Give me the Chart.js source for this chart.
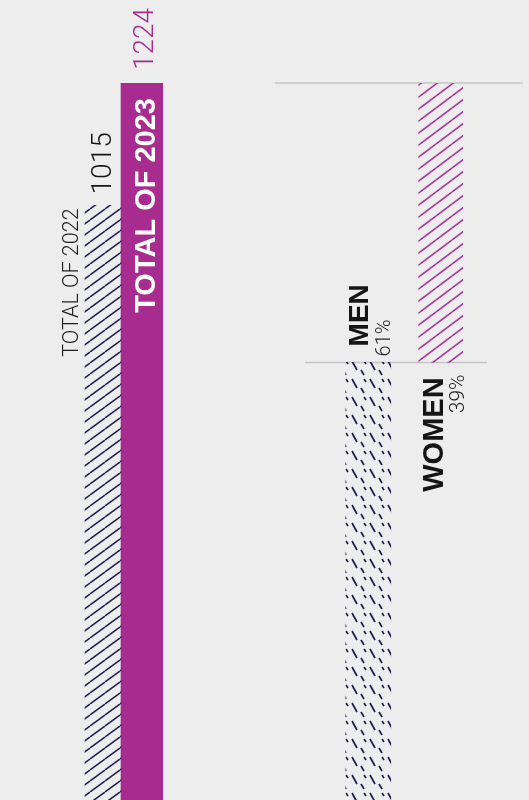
<!DOCTYPE html>
<html>
<head>
<meta charset="utf-8">
<script src="https://cdn.jsdelivr.net/npm/chart.js@4.4.1/dist/chart.umd.min.js"></script>
<style>
  html, body { margin: 0; padding: 0; background: #ededed; }
  #wrap { position: relative; width: 529px; height: 800px; overflow: hidden; }
  canvas { position: absolute; top: 0; }
</style>
</head>
<body>
<div id="wrap">
  <canvas id="totals" width="260" height="800" style="left:0"></canvas>
  <canvas id="gender" width="269" height="800" style="left:260px"></canvas>
</div>
<script>
// data
const totalLabels = ["TOTAL OF 2022", "TOTAL OF 2023"]
const totalValues = [1015, 1224]
const genderLabels = ["MEN", "WOMEN"]
const genderShares = [61, 39] // % of the 2023 total

const purple = "#a82b8f"
const navy = "#1c1f4d"

// split of the 2023 total, stacked as floating bars
const total2023 = totalValues[1]
const menTop = Math.round(total2023 * genderShares[0] / 100)

function hatch(w, h, color, lw, draw) {
  const c = document.createElement("canvas")
  c.width = w
  c.height = h
  const g = c.getContext("2d")
  g.strokeStyle = color
  g.lineWidth = lw
  g.lineCap = "butt"
  draw(g, w, h)
  return g.createPattern(c, "repeat")
}

function diag(g, w, h) {
  for (const off of [-h, 0, h]) {
    g.beginPath()
    g.moveTo(0, h + off)
    g.lineTo(w, off)
    g.stroke()
  }
}

const pat2022 = hatch(15, 11, navy, 1.5, diag)
const patWomen = hatch(16, 12, "#ad3399", 1.6, diag)
const patMen = hatch(18, 18, navy, 1.7, (g) => {
  g.beginPath(); g.moveTo(2, 1); g.lineTo(7, 10); g.stroke()
  g.beginPath(); g.moveTo(11, 10); g.lineTo(14, 15); g.stroke()
  g.beginPath(); g.moveTo(14, 1); g.lineTo(16, 4); g.stroke()
})

function vText(ctx, text, x, y, font, color, align) {
  ctx.save()
  ctx.translate(x, y)
  ctx.rotate(-Math.PI / 2)
  ctx.font = font
  ctx.fillStyle = color
  ctx.textAlign = align || "left"
  ctx.textBaseline = "alphabetic"
  ctx.fillText(text, 0, 0)
  ctx.restore()
}

const light = (s) => "300 " + s + "px Roboto, 'DejaVu Sans', sans-serif"
const bold = (s) => "bold " + s + "px 'Liberation Sans', Arial, sans-serif"

const totalsLabelsPlugin = {
  id: "totalsLabels",
  afterDatasetsDraw(chart) {
    const ctx = chart.ctx
    const b22 = chart.getDatasetMeta(0).data[0]
    const b23 = chart.getDatasetMeta(1).data[1]
    vText(ctx, String(totalValues[0]), b22.x + 8, b22.y - 11, light(28), "#141414")
    vText(ctx, totalLabels[0], b22.x - b22.width / 2 - 7, b22.y + 3, light(21.5), "#1e1e1e", "right")
    vText(ctx, String(totalValues[1]), b23.x + 10, b23.y - 13, light(28), purple)
    vText(ctx, totalLabels[1], b23.x + 12, b23.y + 15, bold(29), "#fff", "right")
  }
}

const genderLabelsPlugin = {
  id: "genderLabels",
  beforeDatasetsDraw(chart) {
    const ctx = chart.ctx
    const y = chart.scales.y
    const area = chart.chartArea
    ctx.save()
    ctx.strokeStyle = "#c6c6c6"
    ctx.lineWidth = 1.5
    ctx.beginPath()
    ctx.moveTo(area.left - 57, y.getPixelForValue(total2023))
    ctx.lineTo(area.right + 46, y.getPixelForValue(total2023))
    ctx.moveTo(area.left - 27, y.getPixelForValue(menTop))
    ctx.lineTo(area.right + 10, y.getPixelForValue(menTop))
    ctx.stroke()
    ctx.restore()
  },
  afterDatasetsDraw(chart) {
    const ctx = chart.ctx
    const men = chart.getDatasetMeta(0).data[0]
    const women = chart.getDatasetMeta(1).data[1]
    vText(ctx, genderLabels[0], men.x, men.y - 16, bold(28), "#151515")
    vText(ctx, genderShares[0] + "%", men.x + 22, men.y - 6, light(20), "#1e1e1e")
    vText(ctx, genderLabels[1], women.x + 2, women.base + 15, bold(29), "#151515", "right")
    vText(ctx, genderShares[1] + "%", women.x + 23, women.base + 12, light(21), "#1e1e1e", "right")
  }
}

const hidden = { display: false }

new Chart(document.getElementById("totals"), {
  type: "bar",
  data: {
    labels: totalLabels,
    datasets: [
      { data: [totalValues[0], null], backgroundColor: pat2022, barThickness: 36 },
      { data: [null, totalValues[1]], backgroundColor: purple, barThickness: 44 },
    ],
  },
  options: {
    responsive: false,
    animation: false,
    grouped: false,
    layout: { padding: { left: 83, right: 97, top: 83, bottom: 0 } },
    plugins: { legend: hidden, tooltip: { enabled: false } },
    scales: {
      x: { display: false },
      y: { display: false, min: 0, max: total2023 },
    },
  },
  plugins: [totalsLabelsPlugin],
})

new Chart(document.getElementById("gender"), {
  type: "bar",
  data: {
    labels: genderLabels,
    datasets: [
      { data: [[0, menTop], null], backgroundColor: patMen, barThickness: 45 },
      { data: [null, [menTop, total2023]], backgroundColor: patWomen, barThickness: 44 },
    ],
  },
  options: {
    responsive: false,
    animation: false,
    grouped: false,
    layout: { padding: { left: 72, right: 52, top: 83, bottom: 0 } },
    plugins: { legend: hidden, tooltip: { enabled: false } },
    scales: {
      x: { display: false },
      y: { display: false, min: 0, max: total2023 },
    },
  },
  plugins: [genderLabelsPlugin],
})
</script>
</body>
</html>
